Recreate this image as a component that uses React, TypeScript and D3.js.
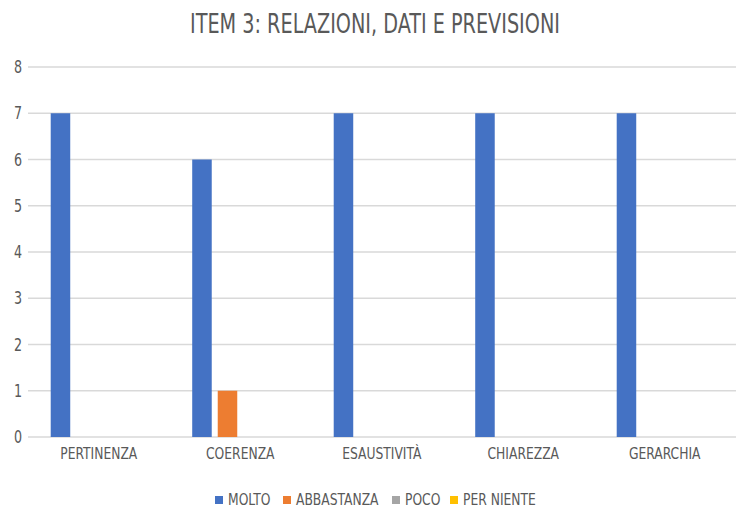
import React from 'react';
import * as d3 from 'd3';

const categories = ['PERTINENZA', 'COERENZA', 'ESAUSTIVITÀ', 'CHIAREZZA', 'GERARCHIA'];
const seriesNames = ['MOLTO', 'ABBASTANZA', 'POCO', 'PER NIENTE'];
const molto = [7, 6, 7, 7, 7];
const abbastanza = [0, 1, 0, 0, 0];
const poco = [0, 0, 0, 0, 0];
const perNiente = [0, 0, 0, 0, 0];
const yTicks = [0, 1, 2, 3, 4, 5, 6, 7, 8];
const colors = ['#4472C4', '#ED7D31', '#A5A5A5', '#FFC000'];

const W = 736;
const H = 511;
const FONT = "'Liberation Sans Narrow', 'DejaVu Sans Condensed', 'Open Sans', sans-serif";
const TEXT = '#595959';
const SX = 0.83; // horizontal squeeze to mimic a narrow font

const App: React.FC = () => {
  const values = [molto, abbastanza, poco, perNiente];

  const x0 = d3.scaleBand<string>().domain(categories).range([28, 735.5]).padding(0);
  const x1 = d3.scaleBand<string>()
    .domain(seriesNames)
    .range([0, x0.bandwidth()])
    .paddingInner(0.235)
    .paddingOuter(0.89);
  const y = d3.scaleLinear().domain([0, 8]).range([437, 67]);

  // legend square positions
  const legendX = [215, 283, 392, 450];

  return (
    <div style={{ position: 'absolute', left: 0, top: 0 }}>
      <svg width={W} height={H} style={{ display: 'block', background: '#fff' }}>
        <text
          x={375}
          y={33}
          textAnchor="middle"
          fontFamily={FONT}
          fontSize={27}
          fill={TEXT}
          textLength={370}
          lengthAdjust="spacingAndGlyphs"
        >
          ITEM 3: RELAZIONI, DATI E PREVISIONI
        </text>

        {yTicks.map(t => (
          <g key={t}>
            <line x1={28} x2={736} y1={y(t)} y2={y(t)} stroke="#D9D9D9" strokeWidth={1.5} />
            <g transform={`translate(22,${y(t) + 6}) scale(${SX},1)`}>
              <text textAnchor="end" fontFamily={FONT} fontSize={17} fill={TEXT}>
                {t}
              </text>
            </g>
          </g>
        ))}

        {categories.map((c, i) => (
          <g key={c} transform={`translate(${x0(c)},0)`}>
            {seriesNames.map((s, j) => {
              const v = values[j][i];
              if (!v) return null;
              return (
                <rect
                  key={s}
                  x={x1(s)}
                  y={y(v)}
                  width={x1.bandwidth()}
                  height={y(0) - y(v)}
                  fill={colors[j]}
                />
              );
            })}
            <g transform={`translate(${x0.bandwidth() / 2},459) scale(${SX},1)`}>
              <text textAnchor="middle" fontFamily={FONT} fontSize={16.5} fill={TEXT}>
                {c}
              </text>
            </g>
          </g>
        ))}

        {seriesNames.map((s, j) => (
          <g key={s} transform={`translate(${legendX[j]},496)`}>
            <rect x={0} y={0} width={8} height={8} fill={colors[j]} />
            <g transform={`translate(13,9) scale(${SX},1)`}>
              <text fontFamily={FONT} fontSize={16.5} fill={TEXT}>
                {s}
              </text>
            </g>
          </g>
        ))}
      </svg>
    </div>
  );
};

export default App;
